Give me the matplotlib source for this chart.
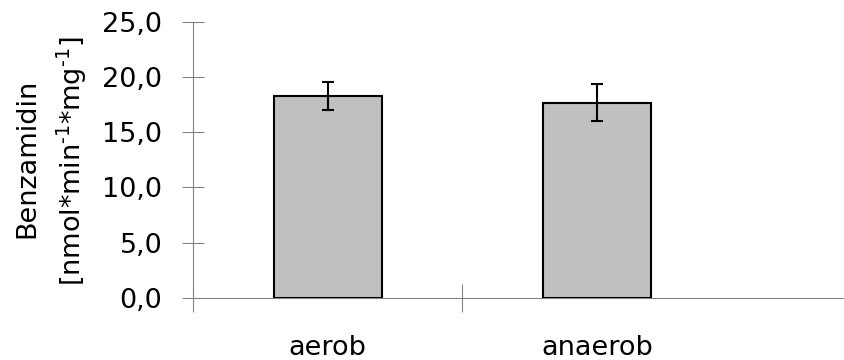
import matplotlib
matplotlib.use("Agg")
import matplotlib.pyplot as plt
from matplotlib import rc

rc("font", family="DejaVu Sans", size=19.5)
rc("mathtext", default="regular")

categories = ["aerob", "anaerob"]
values = [18.3, 17.7]
errors = [1.27, 1.72]
yticks = [0, 5, 10, 15, 20, 25]
yticklabels = ["0,0", "5,0", "10,0", "15,0", "20,0", "25,0"]

fig = plt.figure(figsize=(8.45, 3.6), dpi=100)
ax = fig.add_axes((193 / 845, 62.3 / 360, 1 - 193 / 845, 275.7 / 360))

xpos = range(len(categories))
ax.bar(xpos, values, width=0.4, color="#c0c0c0", edgecolor="black", linewidth=1.5, zorder=2)
ax.errorbar(xpos, values, yerr=errors, fmt="none", ecolor="black",
            elinewidth=1.5, capsize=4.5, capthick=1.5, zorder=3)

ax.set_xlim(-0.5, 1.921)
ax.set_ylim(0, 25)
ax.set_yticks(yticks)
ax.set_yticklabels(yticklabels)

# category boundaries as major ticks, names as minor (centred under bars)
ax.set_xticks([-0.5, 0.5])
ax.set_xticklabels(["", ""])
ax.set_xticks(list(xpos), minor=True)
ax.set_xticklabels(categories, minor=True)
ax.tick_params(axis="x", which="major", direction="inout", length=20, width=0.75, color="#808080")
ax.tick_params(axis="x", which="minor", length=0, pad=27)
ax.tick_params(axis="y", direction="inout", length=16, width=0.75, color="#808080", pad=14)

for side in ["top", "right"]:
    ax.spines[side].set_visible(False)
for side in ["left", "bottom"]:
    ax.spines[side].set_color("#808080")
    ax.spines[side].set_linewidth(0.75)
ax.spines["bottom"].set_zorder(1)

fig.text(27 / 845, 1 - 158 / 360, "Benzamidin", rotation=90, ha="center", va="center")
fig.text(72 / 845, 1 - 161 / 360, r"[nmol*min$^{\text{-1}}$*mg$^{\text{-1}}$]",
         rotation=90, ha="center", va="center")

fig.savefig("out.png", dpi=100)
